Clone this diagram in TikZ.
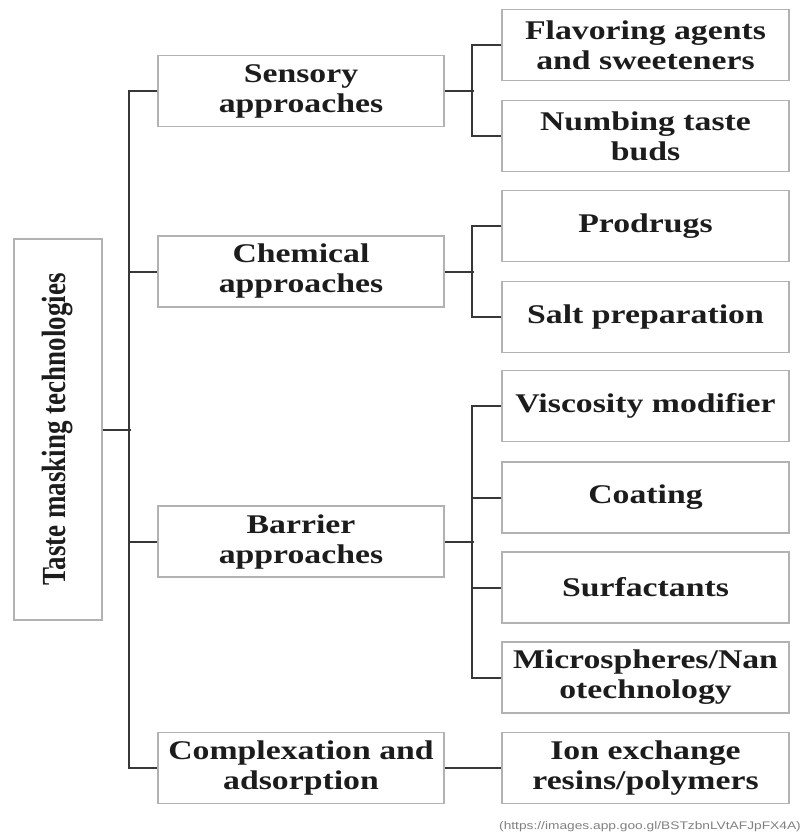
\documentclass[tikz,border=0pt]{standalone}
\usepackage{fontspec}
\usepackage{xcolor}
\usepackage{graphicx}
\usetikzlibrary{positioning}
\newfontfamily\boxfont[FakeStretch=1.25]{Liberation Serif}
\newfontfamily\rootfont{Liberation Serif}
\newfontfamily\srcfont[FakeStretch=1.25]{Liberation Sans}
\definecolor{boxline}{RGB}{178,178,178}
\definecolor{wire}{RGB}{55,55,55}
\definecolor{ink}{RGB}{28,28,28}
\tikzset{
  cat/.style ={rectangle,draw=boxline,line width=1.5pt,minimum width=286pt,minimum height=71pt,inner sep=0pt,align=center,text=ink,font=\boxfont\bfseries\fontsize{27}{30}\selectfont},
  leaf/.style={cat,minimum width=287pt},
  root/.style={rectangle,draw=boxline,line width=1.5pt,minimum width=88pt,minimum height=381pt,inner sep=0pt,text=ink,font=\rootfont\bfseries\fontsize{27}{30}\selectfont},
  src/.style ={text=gray,inner sep=0pt,font=\srcfont\fontsize{11}{13}\selectfont},
  link/.style={wire,line width=2pt},
}

\begin{document}
\begin{tikzpicture}[x=1pt,y=-1pt]
  \useasboundingbox (0,0) rectangle (803,839);
  % root on the left
  \node[root] (root) at (58,429.5){\rotatebox{90}{\scalebox{1}[1.25]{Taste masking technologies}}};
  % four approaches
  \node[cat] (sens) at (301,91){Sensory\\approaches};
  \node[cat] (chem) at (301,271.5){Chemical\\approaches};
  \node[cat] (barr) at (301,541.5){Barrier\\approaches};
  \node[cat] (comp) at (301,768){Complexation and\\adsorption};
  % leaves
  \node[leaf] (flav) at (645.5,45){Flavoring agents\\and sweeteners};
  \node[leaf] (numb) at (645.5,136){Numbing taste\\buds};
  \node[leaf] (prod) at (645.5,226){Prodrugs};
  \node[leaf] (salt) at (645.5,317){Salt preparation};
  \node[leaf] (visc) at (645.5,406){Viscosity modifier};
  \node[leaf] (coat) at (645.5,497.5){Coating};
  \node[leaf] (surf) at (645.5,587.5){Surfactants};
  \node[leaf] (micr) at (645.5,677.5){Microspheres/Nan\\otechnology};
  \node[leaf] (ion)  at (645.5,768){Ion exchange\\resins/polymers};
  \node[src,anchor=east] (note) at (801,827){(https://images.app.goo.gl/BSTzbnLVtAFJpFX4A)};
  % spine
  \draw[link] (root.east) -- ++(28,0);
  \draw[link] (sens.west) -- ++(-28,0) |- (comp.west);
  \draw[link] (chem.west) -- ++(-28,0);
  \draw[link] (barr.west) -- ++(-28,0);
  % branches
  \draw[link] (sens.east) -- ++(29,0);
  \draw[link] (flav.west) -- ++(-29,0) |- (numb.west);
  \draw[link] (chem.east) -- ++(29,0);
  \draw[link] (prod.west) -- ++(-29,0) |- (salt.west);
  \draw[link] (barr.east) -- ++(29,0);
  \draw[link] (visc.west) -- ++(-29,0) |- (micr.west);
  \draw[link] (coat.west) -- ++(-29,0);
  \draw[link] (surf.west) -- ++(-29,0);
  \draw[link] (comp.east) -- (ion.west);
\end{tikzpicture}
\end{document}
